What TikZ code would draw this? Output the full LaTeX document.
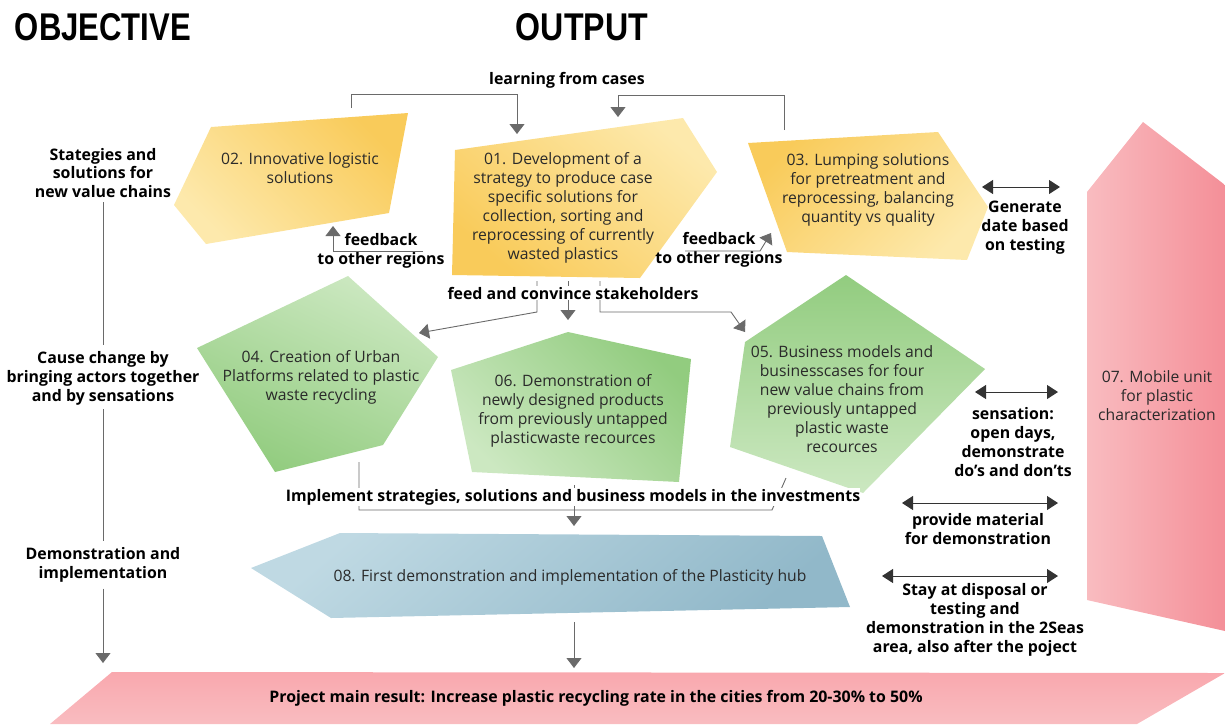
\documentclass[tikz,border=0pt]{standalone}
\usepackage{fontspec}
\usepackage{graphicx}
\setmainfont{Open Sans}
\newfontfamily\headfont{Liberation Sans}
\usetikzlibrary{arrows.meta}

\definecolor{yelDark}{HTML}{F9CB5A}
\definecolor{yelLight}{HTML}{FDE9AC}
\definecolor{grnDark}{HTML}{92CC7F}
\definecolor{grnLight}{HTML}{CCE8C1}
\definecolor{bluDark}{HTML}{91B8C9}
\definecolor{bluLight}{HTML}{BFD9E3}
\definecolor{pnkDark}{HTML}{F48F98}
\definecolor{pnkLight}{HTML}{F9BCC0}
\definecolor{pnkMid}{HTML}{F9A8AE}
\definecolor{ink}{HTML}{2A2A2A}
\definecolor{wiregray}{HTML}{6A6A6A}

\begin{document}
\begin{tikzpicture}[x=1pt,y=-1pt,
  boxtext/.style={align=center,text=ink,inner sep=0pt,font=\fontsize{15.7}{18.9}\selectfont},
  lbl/.style={align=center,text=black,inner sep=0pt,font=\bfseries\fontsize{15.9}{18.9}\selectfont},
  wire/.style={draw=wiregray,line width=0.9pt},
  pointer/.style={-{Triangle[width=15pt,length=10pt]}},
  twoway/.style={draw=black!80,line width=1pt,{Triangle[width=14pt,length=11pt]}-{Triangle[width=14pt,length=11pt]}},
  head/.style={inner sep=0pt,text=black}
]
\useasboundingbox (0,0) rectangle (1225,724);

% ---------- coloured shapes ----------
% 07 mobile unit (vertical pink arrow)
\path[left color=pnkLight,right color=pnkDark]
  (1143,122) -- (1225,185) -- (1225,631) -- (1087,600) -- (1087,192) -- cycle;
% project result bar
\path[top color=pnkMid,bottom color=pnkLight]
  (112,672) -- (1225,673) -- (1137,724) -- (50,724) -- cycle;
% 02
\path[top color=yelDark,bottom color=yelLight,shading angle=-45]
  (211,127) -- (408,113) -- (389,213) -- (206,244) -- (174,205) -- cycle;
% 01
\path[top color=yelLight,bottom color=yelDark,shading angle=-40]
  (455,150) -- (683,118) -- (717,172) -- (640,278) -- (452,275) -- cycle;
% 03
\path[top color=yelDark,bottom color=yelLight,shading angle=45]
  (748,143) -- (938,132) -- (988,207) -- (967,260) -- (787,252) -- cycle;
% 04
\path[top color=grnLight,bottom color=grnDark,shading angle=-25]
  (348,276) -- (438,357) -- (383,445) -- (275,472) -- (197,348) -- cycle;
% 06
\path[top color=grnDark,bottom color=grnLight,shading angle=-45]
  (568,332) -- (691,359) -- (679,482) -- (472,472) -- (451,370) -- cycle;
% 05
\path[top color=grnDark,bottom color=grnLight]
  (846,275) -- (985,369) -- (863,493) -- (730,447) -- (745,342) -- cycle;
% 08
\path[top color=bluLight,bottom color=bluDark,shading angle=40]
  (340,533) -- (822,536) -- (850,607) -- (331,618) -- (251,568) -- cycle;

% ---------- headings ----------
\node[head] (objective) at (103,27) {\resizebox{176pt}{27pt}{\headfont\bfseries OBJECTIVE}};
\node[head] (output) at (582,27) {\resizebox{132pt}{27pt}{\headfont\bfseries OUTPUT}};

% ---------- objective column ----------
\node[lbl] (strat) at (103,173) {Stategies and\\solutions for\\new value chains};
\node[lbl] (cause) at (103,378) {Cause change by\\bringing actors together\\and by sensations};
\node[lbl] (demo) at (103,565) {Demonstration and\\implementation};
\coordinate (colEnd) at (103,663);
\draw[wire,shorten <=4pt,shorten >=6pt] (strat.south) -- (cause.north);
\draw[wire,shorten <=4pt,shorten >=6pt] (cause.south) -- (demo.north);
\draw[wire,pointer,shorten <=6pt] (demo.south) -- (colEnd);

% ---------- box texts ----------
\node[boxtext] (t02) at (300,168) {02. Innovative logistic\\solutions};
\node[boxtext] (t01) at (563,208) {01. Development of a\\strategy to produce case\\specific solutions for\\collection, sorting and\\reprocessing of currently\\wasted plastics};
\node[boxtext] (t03) at (868,190) {03. Lumping solutions\\for pretreatment and\\reprocessing, balancing\\quantity vs quality};
\node[boxtext] (t04) at (321,377) {04. Creation of Urban\\Platforms related to plastic\\waste recycling};
\node[boxtext] (t06) at (573,411) {06. Demonstration of\\newly designed products\\from previously untapped\\plasticwaste recources};
\node[boxtext] (t05) at (842,399) {05. Business models and\\businesscases for four\\new value chains from\\previously untapped\\plastic waste\\recources};
\node[boxtext] (t07) at (1157,396) {07. Mobile unit\\for plastic\\characterization};
\node[boxtext] (t08) at (570,577) {08. First demonstration and implementation of the Plasticity hub};

% ---------- learning from cases ----------
\node[lbl] (learn) at (567,80) {learning from cases};
\coordinate (learnL) at (351,108);
\coordinate (learnLtip) at (517,134);
\coordinate (learnR) at (784,130);
\coordinate (learnRtip) at (618,117);
\draw[wire,pointer] (learnL) -- ++(0,-14) -| (learnLtip);
\draw[wire,pointer] (learnR) -- ++(0,-35) -| (learnRtip);

% ---------- feedback ----------
\node[lbl] (fbL) at (381,251) {feedback\\to other regions};
\coordinate (fbLstart) at (423,251);
\coordinate (fbLtip) at (333,226);
\draw[wire,pointer] (fbLstart) -| (fbLtip);

\node[lbl] (fbR) at (719,250) {feedback\\to other regions};
\coordinate (fbRstart) at (685,251);
\coordinate (fbRbend) at (760,251);
\coordinate (fbRtip) at (771,233);
\draw[wire,pointer] (fbRstart) -- (fbRbend) -- (fbRtip);

% ---------- feed and convince stakeholders ----------
\coordinate (feedL) at (537,281);
\coordinate (feedM) at (568,281);
\coordinate (feedR) at (600,281);
\coordinate (feedLtip) at (419,333);
\coordinate (feedMtip) at (568,320);
\coordinate (feedRbend) at (731,312);
\coordinate (feedRtip) at (745,332);
\draw[wire,pointer] (feedL) -- ++(0,31) -- (feedLtip);
\draw[wire,pointer] (feedM) -- (feedMtip);
\draw[wire,pointer] (feedR) -- ++(0,31) -- (feedRbend) -- (feedRtip);
\node[lbl,fill=white,inner ysep=1pt] (feed) at (573,293) {feed and convince stakeholders};

% ---------- implement ----------
\coordinate (implL) at (359,462);
\coordinate (implM) at (574,485);
\coordinate (implR) at (786,478);
\coordinate (implTip) at (574,526);
\draw[wire] (implL) -- (359,510) -- (772,510) -- (implR);
\draw[wire,pointer] (implM) -- (implTip);
\node[lbl,fill=white,inner ysep=1pt] (impl) at (573,497) {Implement strategies, solutions and business models in the investments};

% ---------- 08 to result ----------
\coordinate (hubOut) at (574,622);
\coordinate (resultIn) at (574,668);
\draw[wire,pointer] (hubOut) -- (resultIn);
\node[lbl] (result) at (596,698) {Project main result: Increase plastic recycling rate in the cities from 20-30\% to 50\%};

% ---------- links with the mobile unit ----------
\coordinate (genA) at (982,187);
\coordinate (genB) at (1060,187);
\draw[twoway] (genA) -- (genB);
\node[lbl] (gen) at (1025,228) {Generate\\date based\\on testing};

\coordinate (sensA) at (975,392);
\coordinate (sensB) at (1058,392);
\draw[twoway] (sensA) -- (sensB);
\node[lbl] (sens) at (1013,442) {sensation:\\open days,\\demonstrate\\do’s and don’ts};

\coordinate (provA) at (902,503);
\coordinate (provB) at (1058,503);
\draw[twoway] (provA) -- (provB);
\node[lbl] (prov) at (978,529) {provide material\\for demonstration};

\coordinate (stayA) at (882,576);
\coordinate (stayB) at (1058,576);
\draw[twoway] (stayA) -- (stayB);
\node[lbl] (stay) at (975,620) {Stay at disposal or\\testing and\\demonstration in the 2Seas\\area, also after the poject};
\end{tikzpicture}
\end{document}
